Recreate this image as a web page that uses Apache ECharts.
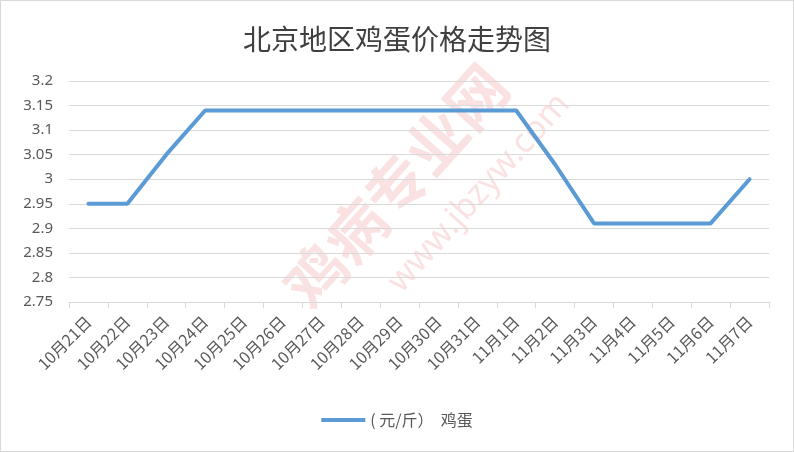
<!DOCTYPE html>
<html>
<head>
<meta charset="utf-8">
<script src="https://cdn.jsdelivr.net/npm/echarts@6/dist/echarts.min.js"></script>
<style>
html,body{margin:0;padding:0;background:#fff;}
#c{width:794px;height:452px;box-sizing:border-box;border:1px solid #d9d9d9;}
</style>
</head>
<body>
<div id="c"></div>
<script>
const titleText = '北京地区鸡蛋价格走势图';
const seriesName = '( 元/斤）  鸡蛋';
const categories = ['10月21日','10月22日','10月23日','10月24日','10月25日','10月26日','10月27日','10月28日','10月29日','10月30日','10月31日','11月1日','11月2日','11月3日','11月4日','11月5日','11月6日','11月7日'];
const prices = [2.95,2.95,3.05,3.14,3.14,3.14,3.14,3.14,3.14,3.14,3.14,3.14,3.03,2.91,2.91,2.91,2.91,3.00];
const yMin = 2.75, yMax = 3.2, yStep = 0.05;

const chart = echarts.init(document.getElementById('c'), null, {renderer:'canvas'});
chart.setOption({
  animation:false,
  backgroundColor:'#fff',
  title:{text:titleText,left:'center',top:19,textStyle:{fontFamily:'Noto Sans CJK SC',fontSize:28,fontWeight:'normal',color:'#404040'}},
  graphic:[
    {type:'text',x:395,y:185,rotation:0.84,style:{text:'鸡病专业网',fontSize:60,fontWeight:'bold',fontFamily:'Noto Sans CJK SC',fill:'rgba(235,110,110,0.2)',align:'center',verticalAlign:'middle'},z:-1},
    {type:'text',x:478,y:192,rotation:0.84,style:{text:'www.jbzyw.com',fontSize:34,fontFamily:'Noto Sans',fill:'rgba(235,110,110,0.2)',align:'center',verticalAlign:'middle'},z:-1}
  ],
  grid:{left:68,right:24,top:80,bottom:149,containLabel:false},
  legend:{bottom:18,left:'center',itemWidth:44,itemHeight:4,itemGap:10,icon:'rect',textStyle:{fontFamily:'Noto Sans CJK SC',fontSize:16,color:'#595959'},data:[seriesName]},
  xAxis:{type:'category',data:categories,boundaryGap:true,
    axisLine:{lineStyle:{color:'#d9d9d9',width:1}},
    axisTick:{show:true,length:6,lineStyle:{color:'#d9d9d9'}},
    axisLabel:{rotate:45,fontFamily:'Noto Sans CJK SC',fontSize:16,color:'#595959',margin:17,interval:0}},
  yAxis:{type:'value',min:yMin,max:yMax,interval:yStep,
    axisLine:{show:false},axisTick:{show:false},
    splitLine:{lineStyle:{color:'#d9d9d9',width:1}},
    axisLabel:{fontFamily:'Noto Sans',fontSize:15,color:'#595959',margin:16,formatter:v=>String(parseFloat(v.toFixed(2)))}},
  series:[{name:seriesName,type:'line',data:prices,symbol:'none',lineStyle:{color:'#5b9bd5',width:4,cap:'round'},itemStyle:{color:'#5b9bd5'}}]
});
</script>
</body>
</html>
